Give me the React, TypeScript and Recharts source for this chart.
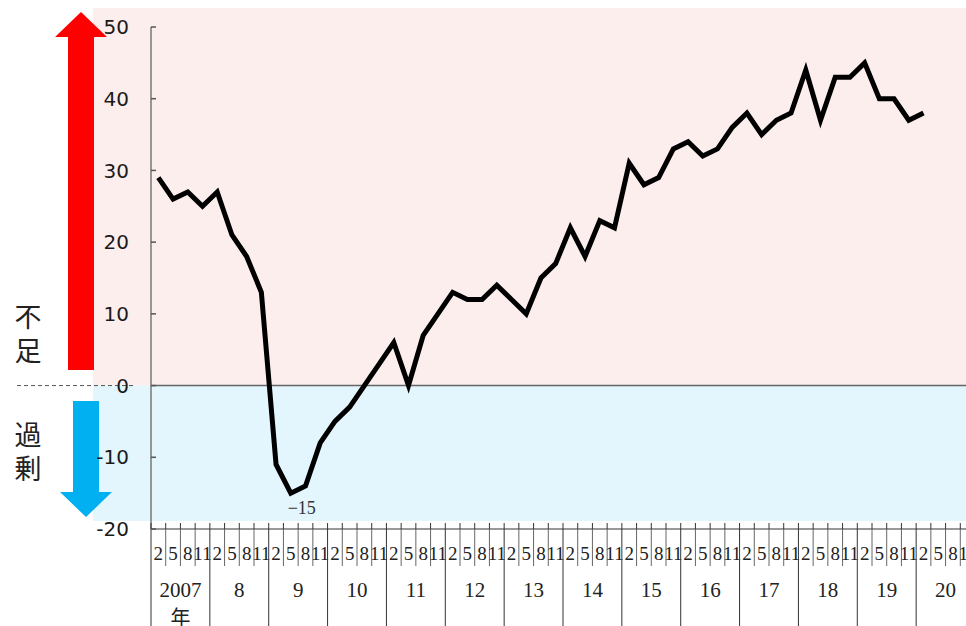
import React from 'react';
import { LineChart, Line, XAxis, YAxis, ReferenceLine } from 'recharts';

// Survey years and the survey months within each year
const YEARS = [2007, 2008, 2009, 2010, 2011, 2012, 2013, 2014, 2015, 2016, 2017, 2018, 2019, 2020];
const MONTHS = ['2', '5', '8', '11'];

// Employment DI (shortage minus surplus), one value per survey
const DI_VALUES = [
  29, 26, 27, 25,
  27, 21, 18, 13,
  -11, -15, -14, -8,
  -5, -3, 0, 3,
  6, 0, 7, 10,
  13, 12, 12, 14,
  12, 10, 15, 17,
  22, 18, 23, 22,
  31, 28, 29, 33,
  34, 32, 33, 36,
  38, 35, 37, 38,
  44, 37, 43, 43,
  45, 40, 40, 37,
  38,
];

const Y_TICKS = [-20, -10, 0, 10, 20, 30, 40, 50];
const Y_MIN = -20;
const Y_MAX = 50;

type Row = { key: string; year: number; month: string; di: number | null };

const DATA: Row[] = [];
YEARS.forEach((year) => {
  MONTHS.forEach((month) => {
    const i = DATA.length;
    DATA.push({ key: `${year}-${month}`, year, month, di: i < DI_VALUES.length ? DI_VALUES[i] : null });
  });
});
const INDEX_BY_KEY = new Map(DATA.map((d, i) => [d.key, i]));
const MIN_DI = Math.min(...DI_VALUES);

// Layout
const VIEW_W = 966;
const VIEW_H = 626;
const CHART_W = 975;
const CHART_H = 626;
const PLOT_LEFT = 151;
const PLOT_TOP = 27;
const X_AXIS_H = 97;
const PLOT_BOTTOM = CHART_H - X_AXIS_H;
const BAND = (CHART_W - PLOT_LEFT) / DATA.length;
const Y_ZERO = PLOT_TOP + ((PLOT_BOTTOM - PLOT_TOP) * (Y_MAX - 0)) / (Y_MAX - Y_MIN);

const SERIF = '"Liberation Serif", "DejaVu Serif", "Noto Sans CJK JP", serif';
const SANS = '"DejaVu Sans", Verdana, sans-serif';
const CJK = '"Noto Sans CJK JP", sans-serif';

const MonthTick = (props: any) => {
  const { x, y, payload } = props;
  const i = INDEX_BY_KEY.get(payload.value) ?? 0;
  const row = DATA[i];
  const left = x - BAND / 2;
  const right = x + BAND / 2;
  const yearStart = i % 4 === 0;
  const lastCell = i === DATA.length - 1;
  return (
    <g>
      <line x1={left} x2={left} y1={y - 6} y2={y} stroke="#333" strokeWidth={1} />
      <line
        x1={left}
        x2={left}
        y1={y}
        y2={yearStart ? CHART_H : y + 37}
        stroke={yearStart ? '#333' : '#666'}
        strokeWidth={1}
      />
      {lastCell && <line x1={right} x2={right} y1={y - 6} y2={CHART_H} stroke="#333" strokeWidth={1} />}
      <text x={x} y={y + 31} textAnchor="middle" fontFamily={SERIF} fontSize={19} fill="#222">
        {row.month}
      </text>
      {i % 4 === 1 && (
        <text x={x + BAND / 2} y={y + 68} textAnchor="middle" fontFamily={SERIF} fontSize={21} fill="#222">
          {row.year === YEARS[0] ? String(row.year) : String(row.year % 100)}
        </text>
      )}
      {i === 1 && (
        <text x={x + BAND / 2} y={y + 96} textAnchor="middle" fontFamily={SERIF} fontSize={20} fill="#222">
          年
        </text>
      )}
    </g>
  );
};

const ValueTick = (props: any) => {
  const { x, y, payload } = props;
  return (
    <g>
      <line x1={x} x2={x + 5} y1={y} y2={y} stroke="#555" strokeWidth={1.5} />
      <text x={x - 22} y={y} dy="0.36em" textAnchor="end" fontFamily={SANS} fontSize={20} fill="#1a1a1a">
        {String(payload.value)}
      </text>
    </g>
  );
};

const MinLabel = (props: any) => {
  const { x, y, value } = props;
  if (value !== MIN_DI) return <g />;
  return (
    <text x={x + 11} y={y + 21} textAnchor="middle" fontFamily={SERIF} fontSize={18} fill="#333">
      {`\u2212${Math.abs(value)}`}
    </text>
  );
};

// A caption set vertically (top to bottom) starting at y
const VerticalCaption = ({ x, y, text }: { x: number; y: number; text: string }) => (
  <text
    x={x}
    y={y}
    fontFamily={CJK}
    fontSize={27}
    fill="#222"
    style={{ writingMode: 'vertical-rl', letterSpacing: '7px' }}
  >
    {text}
  </text>
);

// Shaded shortage / surplus bands, side arrows and captions
const Backdrop = () => (
  <svg width={VIEW_W} height={VIEW_H} style={{ position: 'absolute', left: 0, top: 0 }}>
    <rect x={93} y={8} width={VIEW_W - 93} height={Y_ZERO - 8} fill="#fdeeee" />
    <rect x={93} y={Y_ZERO} width={VIEW_W - 93} height={521 - Y_ZERO} fill="#e3f5fd" />
    <line x1={17} x2={136} y1={Y_ZERO} y2={Y_ZERO} stroke="#555" strokeWidth={1} strokeDasharray="4 3" />
    <polygon points="81,12 107,37 94,37 94,370 68,370 68,37 55,37" fill="#ff0000" />
    <polygon points="73,401 99,401 99,492 112,492 86,517 60,492 73,492" fill="#00b0f0" />
    <VerticalCaption x={28} y={303} text="不足" />
    <VerticalCaption x={28} y={421} text="過剰" />
  </svg>
);

export default function App() {
  return (
    <div
      style={{
        position: 'fixed',
        left: 0,
        top: 0,
        width: VIEW_W,
        height: VIEW_H,
        overflow: 'hidden',
        background: '#ffffff',
      }}
    >
      <Backdrop />
      <div style={{ position: 'absolute', left: 0, top: 0 }}>
        <LineChart
          width={CHART_W}
          height={CHART_H}
          data={DATA}
          margin={{ top: PLOT_TOP, right: 0, bottom: 0, left: 0 }}
        >
          <XAxis
            dataKey="key"
            scale="point"
            padding={{ left: BAND / 2, right: BAND / 2 }}
            interval={0}
            height={X_AXIS_H}
            tickSize={0}
            tickMargin={0}
            tickLine={false}
            axisLine={{ stroke: '#333', strokeWidth: 1 }}
            tick={<MonthTick />}
          />
          <YAxis
            type="number"
            domain={[Y_MIN, Y_MAX]}
            ticks={Y_TICKS}
            interval={0}
            allowDataOverflow
            width={PLOT_LEFT}
            tickSize={0}
            tickMargin={0}
            tickLine={false}
            axisLine={{ stroke: '#777', strokeWidth: 1.5 }}
            tick={<ValueTick />}
          />
          <ReferenceLine y={0} stroke="#666" strokeWidth={1.5} />
          <Line
            type="linear"
            dataKey="di"
            stroke="#000"
            strokeWidth={5}
            strokeLinejoin="miter"
            dot={false}
            activeDot={false}
            isAnimationActive={false}
            label={<MinLabel />}
          />
        </LineChart>
      </div>
    </div>
  );
}
